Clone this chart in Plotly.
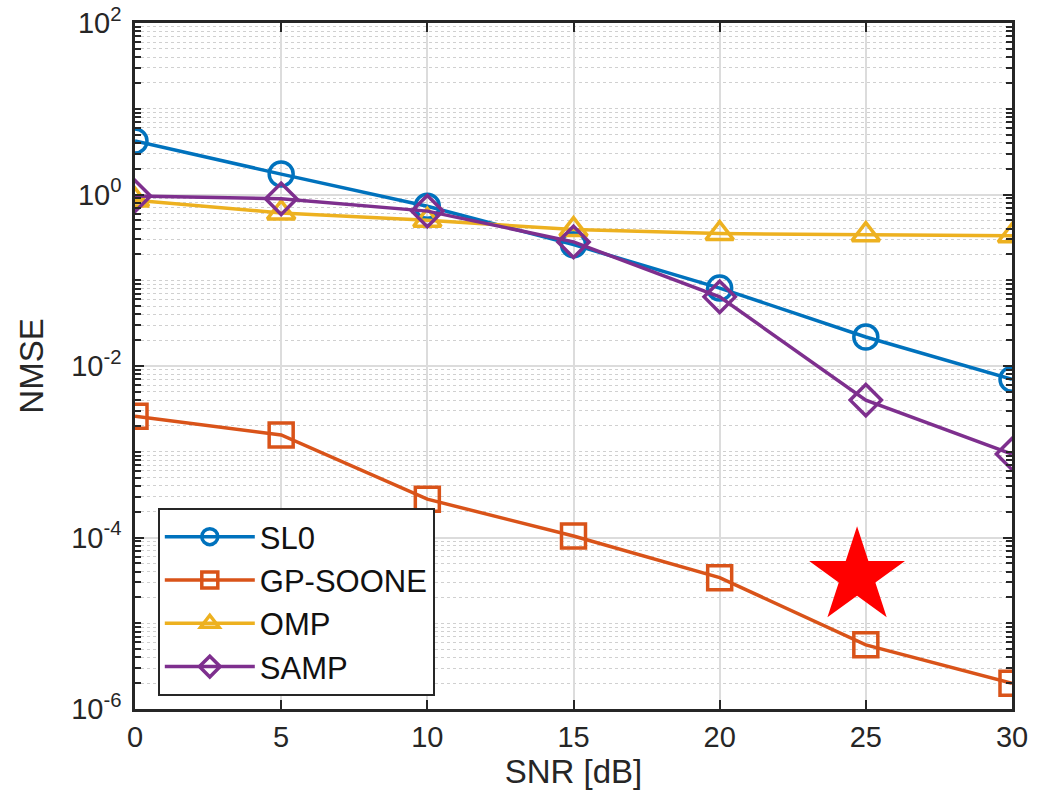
import plotly.graph_objects as go

snr = [0, 5, 10, 15, 20, 25, 30]
sl0 = [4.2, 1.73, 0.73, 0.26, 0.081, 0.0218, 0.0070]
gp_soone = [0.0026, 0.00157, 2.8e-4, 1.04e-4, 3.4e-5, 5.6e-6, 2.0e-6]
omp = [0.86, 0.61, 0.50, 0.39, 0.35, 0.34, 0.33]
samp = [0.96, 0.89, 0.64, 0.28, 0.064, 0.0040, 9.4e-4]
star_x = [24.7]
star_y = [3.5e-5]

series = [
    ("SL0", sl0, "#0072BD", "circle-open"),
    ("GP-SOONE", gp_soone, "#D95319", "square-open"),
    ("OMP", omp, "#EDB120", "triangle-up-open"),
    ("SAMP", samp, "#7E2F8E", "diamond-open"),
]

fig = go.Figure()
for name, vals, col, sym in series:
    fig.add_trace(go.Scatter(
        x=snr, y=vals, name=name, mode="lines+markers",
        line=dict(color=col, width=3.5),
        marker=dict(symbol=sym, size=24, color=col, line=dict(color=col, width=3.5)),
    ))

fig.add_trace(go.Scatter(
    x=star_x, y=star_y, mode="markers", showlegend=False,
    marker=dict(symbol="star", size=72, color="#FF0000", line=dict(width=0)),
))

major_vals = [10.0 ** d for d in range(-6, 3, 2)]
major_text = ["10<sup>%d</sup>" % d for d in range(-6, 3, 2)]
minor_vals = [m * 10.0 ** d for d in range(-6, 2) for m in range(1, 10) if not (m == 1 and d % 2 == 0)]

font = "Liberation Sans, Arial, sans-serif"
fig.update_layout(
    width=1044, height=811,
    margin=dict(l=135, r=32, t=23, b=102),
    paper_bgcolor="white", plot_bgcolor="white",
    font=dict(family=font, size=29, color="#262626"),
    showlegend=True,
    legend=dict(
        x=0.026, y=0.293, xanchor="left", yanchor="top",
        bgcolor="white", bordercolor="#262626", borderwidth=2,
        font=dict(size=31, color="#111111"), itemwidth=90, tracegroupgap=0,
    ),
    xaxis=dict(
        range=[0, 30], tickvals=snr, ticks="inside", ticklen=9, tickwidth=2,
        tickcolor="#262626", automargin=False,
        showline=True, linecolor="#262626", linewidth=2.5, mirror="ticks",
        showgrid=True, gridcolor="#DCDCDC", gridwidth=1.5,
        title=dict(text="SNR [dB]", font=dict(size=33), standoff=6),
        zeroline=False,
    ),
    yaxis=dict(
        type="log", range=[-6, 2], tickvals=major_vals, ticktext=major_text,
        ticks="inside", ticklen=9, tickwidth=2, tickcolor="#262626",
        automargin=False, ticklabelstandoff=5,
        showline=True, linecolor="#262626", linewidth=2.5, mirror="ticks",
        showgrid=True, gridcolor="#DCDCDC", gridwidth=1.5,
        minor=dict(tickvals=minor_vals, ticks="inside", ticklen=6, tickcolor="#262626",
                   showgrid=True, gridcolor="#D0D0D0", griddash="dot", gridwidth=1),
        title=dict(text="NMSE", font=dict(size=33), standoff=18),
        zeroline=False,
    ),
)

fig.write_html(
    "out.html",
    config={"displayModeBar": False},
    post_script="document.body.style.margin='0';document.body.style.overflow='hidden';",
)
